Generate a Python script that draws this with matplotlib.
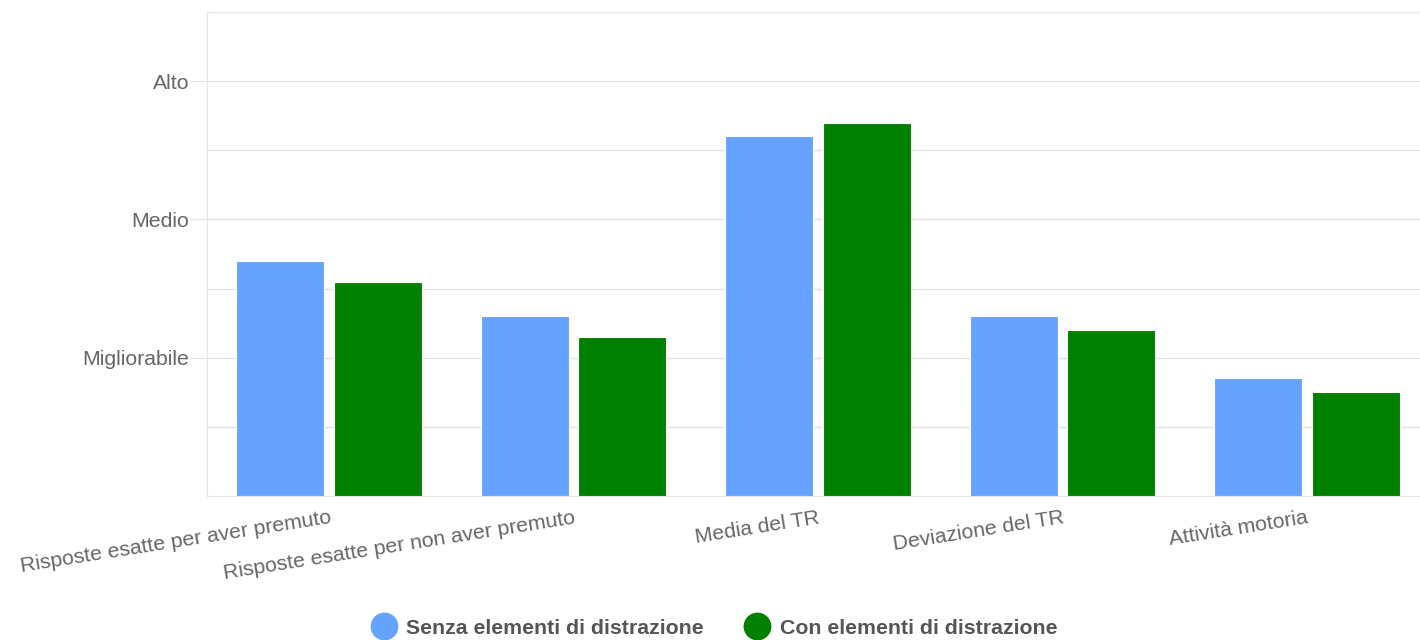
import matplotlib
matplotlib.use("Agg")
import matplotlib.pyplot as plt
from matplotlib.lines import Line2D
import numpy as np

plt.rcParams['font.family'] = ['Liberation Sans', 'DejaVu Sans']

categories = ["Risposte esatte per aver premuto", "Risposte esatte per non aver premuto",
              "Media del TR", "Deviazione del TR", "Attività motoria"]
senza = [1.7, 1.3, 2.6, 1.3, 0.85]
con = [1.55, 1.15, 2.7, 1.2, 0.75]
series_names = ["Senza elementi di distrazione", "Con elementi di distrazione"]
ytick_vals = [1, 2, 3]
ytick_labels = ["Migliorabile", "Medio", "Alto"]

blue = "#66a3ff"
green = "#008000"
gridc = "#e4e4e4"
textc = "#666666"

fig = plt.figure(figsize=(14.2, 6.4), dpi=100)
ax = fig.add_axes([207/1420, 1-496/640, (1429-207)/1420, (496-12)/640])

x = np.arange(len(categories))
w = 0.36
ax.bar(x - 0.2, senza, w, color=blue, edgecolor="white", linewidth=0.8, zorder=3)
ax.bar(x + 0.2, con, w, color=green, edgecolor="white", linewidth=0.8, zorder=3)

ax.set_xlim(-0.5, len(categories) - 0.5)
ax.set_ylim(0, 3.5)
ax.set_yticks(ytick_vals)
ax.set_yticklabels(ytick_labels, fontsize=15.3, color=textc)
ax.set_yticks(np.arange(0.5, 3.6, 0.5), minor=True)
ax.tick_params(axis='y', which='major', length=12.3, color=gridc, pad=0.5)
ax.tick_params(axis='y', which='minor', length=0)
ax.grid(axis='y', which='both', color=gridc, linewidth=1, zorder=0)
ax.grid(axis='x', visible=False)

ax.set_xticks(x)
ax.set_xticklabels(categories, fontsize=15.3, color=textc, rotation=9,
                   ha='right', rotation_mode='anchor')
ax.tick_params(axis='x', length=0, pad=9)

for s in ['top', 'right']:
    ax.spines[s].set_visible(False)
ax.spines['left'].set_color(gridc)
ax.spines['bottom'].set_color(gridc)

handles = [Line2D([], [], marker='o', linestyle='', markersize=19, color=blue),
           Line2D([], [], marker='o', linestyle='', markersize=19, color=green)]
leg = fig.legend(handles, series_names, loc='center', bbox_to_anchor=(0.5, 1-628/640),
                 ncol=2, frameon=False, handletextpad=0.05, columnspacing=1.5,
                 prop={'weight': 'bold', 'size': 15.3})
for t in leg.get_texts():
    t.set_color("#555555")

fig.savefig("out.png", dpi=100)
